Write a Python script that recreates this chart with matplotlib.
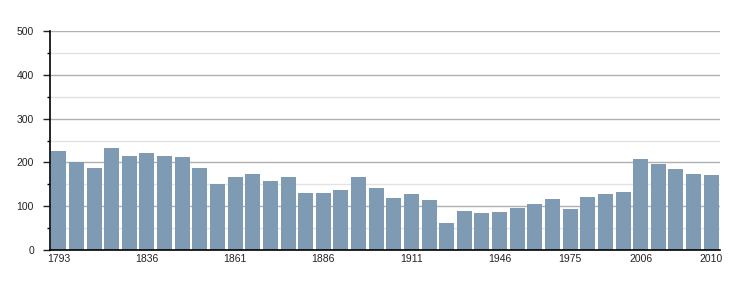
import numpy as np
import matplotlib
matplotlib.use("Agg")
import matplotlib.pyplot as plt
from matplotlib.ticker import MultipleLocator

years = ['1793', '1800', '1806', '1821', '1831', '1836', '1841', '1846', '1851', '1856',
         '1861', '1866', '1872', '1876', '1881', '1886', '1891', '1896', '1901', '1906',
         '1911', '1921', '1926', '1931', '1936', '1946', '1954', '1962', '1968', '1975',
         '1982', '1990', '1999', '2006', '2007', '2008', '2009', '2010']
population = [226, 201, 188, 233, 215, 221, 215, 212, 188, 151,
              167, 174, 158, 167, 130, 130, 137, 167, 142, 119,
              128, 114, 62, 89, 85, 87, 96, 105, 116, 94,
              121, 128, 132, 208, 196, 185, 174, 171]
labeled = ['1793', '1836', '1861', '1886', '1911', '1946', '1975', '2006', '2010']

plt.rcParams['font.family'] = ['Liberation Sans', 'DejaVu Sans']

fig = plt.figure(figsize=(7.5, 3), dpi=100)
ax = fig.add_axes([50 / 750, 50 / 300, 670 / 750, 219 / 300])

x = np.arange(len(years))
ax.bar(x, population, width=0.85, color='#7f9ab3', zorder=2)

ax.set_xlim(-0.5, len(years) - 0.5)
ax.set_ylim(0, 500)
ax.yaxis.set_major_locator(MultipleLocator(100))
ax.yaxis.set_minor_locator(MultipleLocator(50))
ax.grid(axis='y', which='major', color='#b0b0b0', linewidth=1, zorder=0)
ax.grid(axis='y', which='minor', color='#e3e3e3', linewidth=1, zorder=0)

ticks = [i for i, y in enumerate(years) if y in labeled]
ax.set_xticks(ticks)
ax.set_xticklabels([years[i] for i in ticks])
ax.tick_params(axis='x', length=0, pad=3, labelsize=7.5, colors='#222222')
ax.tick_params(axis='y', which='major', length=5, width=1, pad=6.5, labelsize=7.5,
               colors='#222222')
ax.tick_params(axis='y', which='minor', length=2.5, width=1)

for s in ['top', 'right']:
    ax.spines[s].set_visible(False)
ax.spines['left'].set_linewidth(1.2)
ax.spines['bottom'].set_linewidth(1.2)
ax.spines['left'].set_zorder(3)
ax.spines['bottom'].set_zorder(3)

fig.savefig('out.png', dpi=100)
